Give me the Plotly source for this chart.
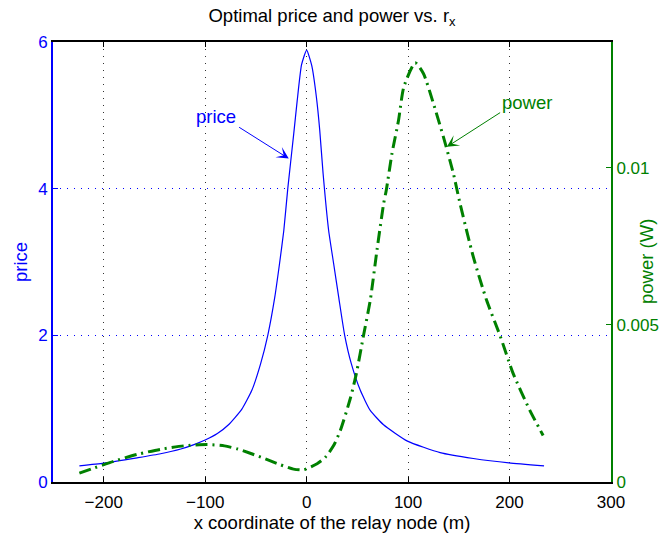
import plotly.graph_objects as go

# Relay x-coordinate samples (m) and the optimal price at each
price_x = [-224, -200, -167, -144, -124, -111, -99.5, -88, -77, -64, -54, -45.4,
           -38.3, -31.4, -26.7, -22.5, -18.6, -12.7, -9.3, -5, 0, 5, 9.6, 12.9,
           16.2, 21.7, 26.6, 31.6, 37.5, 44.1, 52.9, 62.7, 75.8, 99.4, 131.6,
           164.3, 199.4, 234]
price_y = [0.22, 0.257, 0.33, 0.385, 0.45, 0.51, 0.575, 0.66, 0.78, 0.99, 1.25, 1.61,
           2.0, 2.52, 2.98, 3.43, 4.0, 4.75, 5.2, 5.69, 5.89, 5.68, 5.25, 4.80,
           4.21, 3.43, 2.98, 2.52, 2.0, 1.61, 1.25, 0.976, 0.78, 0.557, 0.40,
           0.32, 0.26, 0.22]

# Relay x-coordinate samples (m) and the optimal transmit power (W)
power_x = [-224, -209, -190, -167, -144, -121, -98, -81, -68, -45, -26, -13, -3,
           10.3, 18.5, 26.6, 33.2, 43, 49, 56.1, 62.7, 69.3, 75.9, 78.5, 84.1,
           90.6, 95.8, 107, 115.1, 125, 134.8, 144.6, 151.2, 164.3, 177.4, 190.5,
           203.6, 220, 233.1]
power_y = [0.00028, 0.00045, 0.00066, 0.00088, 0.00104, 0.00115, 0.00119, 0.00115,
           0.00105, 0.00079, 0.00055, 0.00041, 0.00039, 0.00058, 0.00079, 0.00116,
           0.00164, 0.00265, 0.00345, 0.00467, 0.00578, 0.00737, 0.00886, 0.00928,
           0.01045, 0.01151, 0.01257, 0.01334, 0.0130, 0.01204, 0.01098, 0.00982,
           0.00886, 0.00716, 0.00578, 0.00467, 0.00345, 0.00228, 0.00148]

x_ticks = [-200, -100, 0, 100, 200, 300]
price_ticks = [0, 2, 4, 6]
power_ticks = [0, 0.005, 0.01]
power_tick_text = ["0", "0.005", "0.01"]

BLUE = "#0000ff"
GREEN = "#008000"
FONT = "Liberation Sans, Arial, Helvetica, sans-serif"
TICK_SIZE = 17
LABEL_SIZE = 18.5

fig = go.Figure()
fig.add_trace(go.Scatter(x=price_x, y=price_y, mode="lines",
                         line=dict(color=BLUE, width=1.2, shape="spline",
                                   smoothing=0.5),
                         yaxis="y", showlegend=False))
fig.add_trace(go.Scatter(x=power_x, y=power_y, mode="lines",
                         line=dict(color=GREEN, width=3, shape="spline",
                                   smoothing=0.6, dash="12px,5px,2px,5px"),
                         yaxis="y2", showlegend=False))

fig.update_layout(
    width=661, height=535,
    margin=dict(l=53, r=50, t=42, b=53, autoexpand=False),
    paper_bgcolor="white", plot_bgcolor="white",
    font=dict(family=FONT, size=TICK_SIZE, color="black"),
    title=dict(text="Optimal price and power vs. r<sub>x</sub>",
               x=0.5, xref="paper", xanchor="center",
               y=1 - 16 / 535, yref="container", yanchor="middle",
               font=dict(size=LABEL_SIZE, color="black")),
    xaxis=dict(range=[-250, 300], tickvals=x_ticks, ticks="inside", ticklen=5,
               tickcolor="black", showline=True, linecolor="black", linewidth=2,
               mirror="ticks", showgrid=True, gridcolor="#333333",
               griddash="1px,6px", gridwidth=1, zeroline=False,
               automargin=False, ticklabelstandoff=4,
               tickfont=dict(color="black", size=TICK_SIZE),
               title=dict(text="x coordinate of the relay node (m)",
                          font=dict(size=LABEL_SIZE), standoff=2)),
    yaxis=dict(range=[0, 6], tickvals=price_ticks, ticks="inside", ticklen=5,
               tickcolor=BLUE, showline=True, linecolor=BLUE, linewidth=2,
               showgrid=True, gridcolor=BLUE, griddash="1px,6px", gridwidth=1,
               zeroline=False, automargin=False,
               tickfont=dict(color=BLUE, size=TICK_SIZE)),
    yaxis2=dict(range=[0, 0.014], tickvals=power_ticks, ticktext=power_tick_text,
                overlaying="y", side="right", ticks="inside", ticklen=5,
                tickcolor=GREEN, showline=True, linecolor=GREEN, linewidth=2,
                showgrid=False, zeroline=False, automargin=False,
                tickfont=dict(color=GREEN, size=TICK_SIZE)),
)

# Vertical axis titles
fig.add_annotation(x=-33 / 558, y=0.5, xref="paper", yref="paper", text="price",
                   textangle=-90, showarrow=False, xanchor="center",
                   yanchor="middle", font=dict(color=BLUE, size=LABEL_SIZE))
fig.add_annotation(x=1 + 35 / 558, y=0.5, xref="paper", yref="paper",
                   text="power (W)", textangle=-90, showarrow=False,
                   xanchor="center", yanchor="middle",
                   font=dict(color=GREEN, size=LABEL_SIZE))

# Labels and arrows pointing at each curve
fig.add_annotation(x=-89.7, y=4.99, xref="x", yref="y", text="price",
                   showarrow=False, font=dict(color=BLUE, size=LABEL_SIZE))
fig.add_annotation(x=-17.6, y=4.41, ax=-68, ay=4.85, xref="x", yref="y",
                   axref="x", ayref="y", text="", showarrow=True,
                   arrowhead=3, arrowsize=2, arrowwidth=1, arrowcolor=BLUE)
fig.add_annotation(x=216.9, y=5.18, xref="x", yref="y", text="power",
                   showarrow=False, font=dict(color=GREEN, size=LABEL_SIZE))
fig.add_annotation(x=138.2, y=4.57, ax=192.2, ay=5.05, xref="x", yref="y",
                   axref="x", ayref="y", text="", showarrow=True,
                   arrowhead=3, arrowsize=2, arrowwidth=1, arrowcolor=GREEN)

fig.write_html("out.html")
